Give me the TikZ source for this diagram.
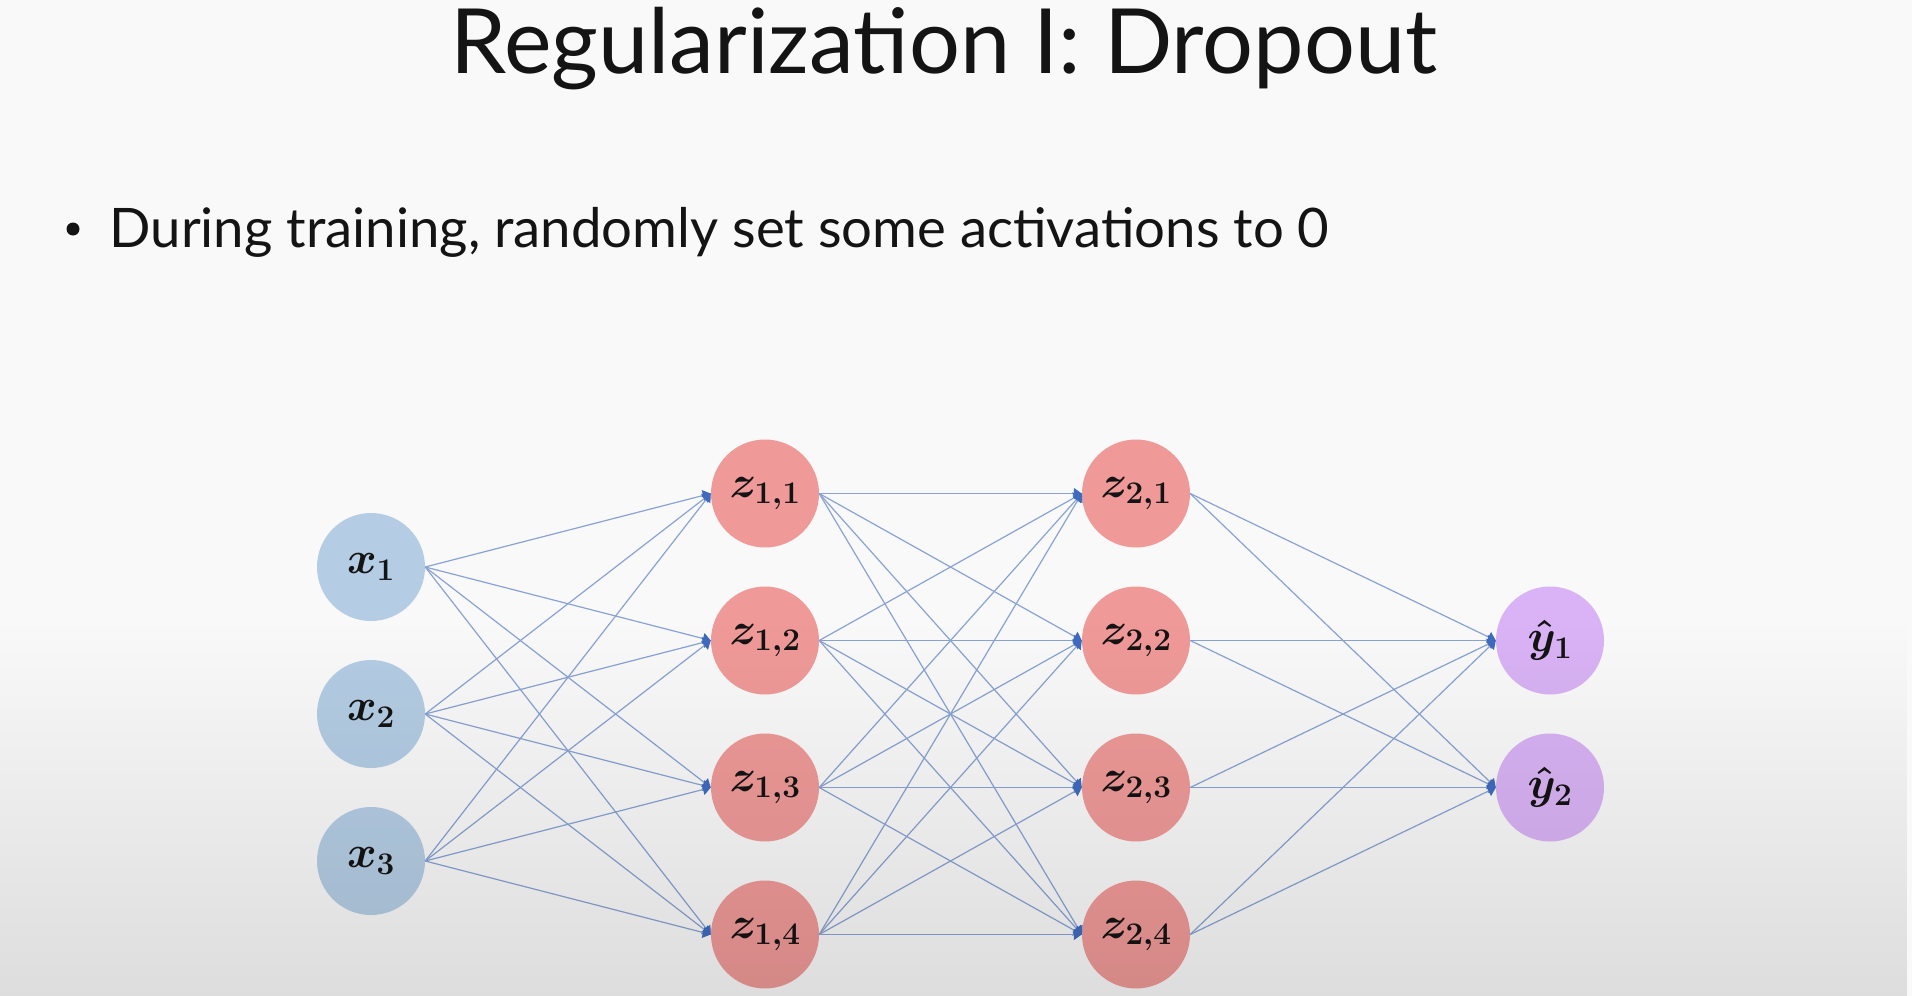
\RequirePackage{fix-cm}
\documentclass[tikz,border=0pt]{standalone}
\usepackage{fontspec}
\setmainfont{Lato}
\usepackage{xcolor}
\definecolor{bgtop}{HTML}{F8F9F8}
\definecolor{inblue}{HTML}{B4CDE4}
\definecolor{hidred}{HTML}{EF9A98}
\definecolor{outpurple}{HTML}{D9B3F5}
\definecolor{edgeblue}{HTML}{8AA3D4}
\definecolor{tipblue}{HTML}{3F6BBF}
\definecolor{inkdark}{HTML}{141414}
\usepackage{tikz}
\usetikzlibrary{arrows.meta,fadings}
\tikzfading[name=fadedown,top color=transparent!100,bottom color=transparent!0]

\begin{document}
\begin{tikzpicture}[x=1pt,y=-1pt]
\tikzset{
 neuron/.style={circle,minimum size=108pt,inner sep=0pt,text=inkdark,font=\fontsize{45}{54}\selectfont\boldmath},
 inp/.style={neuron,fill=inblue},
 hid/.style={neuron,fill=hidred},
 outp/.style={neuron,fill=outpurple},
 link/.style={line width=1.2pt,draw=edgeblue,-{Triangle[width=11pt,length=8pt,color=tipblue]}}
}
\fill[bgtop] (0,0) rectangle (1912,996);
\useasboundingbox (0,0) rectangle (1912,996);

% slide text
\node[anchor=base,text=inkdark,font=\fontsize{90}{104}\selectfont] (title) at (944,73) {Regularization I: Dropout};
\node[anchor=base west,text=inkdark,font=\fontsize{54.5}{66}\selectfont] (point) at (106,247) {During training, randomly set some activations to 0};
\fill[inkdark] (73,229) circle (6.5pt);

% input layer
\node[inp] (x1) at (371,567) {$x_1$};
\node[inp] (x2) at (371,714) {$x_2$};
\node[inp] (x3) at (371,861) {$x_3$};

% hidden layers
\node[hid] (z11) at (765,493.5) {$z_{1,1}$};
\node[hid] (z12) at (765,640.5) {$z_{1,2}$};
\node[hid] (z13) at (765,787.5) {$z_{1,3}$};
\node[hid] (z14) at (765,934.5) {$z_{1,4}$};
\node[hid] (z21) at (1136,493.5) {$z_{2,1}$};
\node[hid] (z22) at (1136,640.5) {$z_{2,2}$};
\node[hid] (z23) at (1136,787.5) {$z_{2,3}$};
\node[hid] (z24) at (1136,934.5) {$z_{2,4}$};

% output layer
\node[outp] (y1) at (1550,640.5) {$\hat{y}_1$};
\node[outp] (y2) at (1550,787.5) {$\hat{y}_2$};

% connections
\foreach \i in {1,2,3}
  \foreach \j in {1,...,4}
    \draw[link] (x\i.east) -- (z1\j.west);
\foreach \i in {1,...,4}
  \foreach \j in {1,...,4}
    \draw[link] (z1\i.east) -- (z2\j.west);
\foreach \i in {1,...,4}
  \foreach \j in {1,2}
    \draw[link] (z2\i.east) -- (y\j.west);

% darker lower part of the slide
\fill[black,fill opacity=0.11,path fading=fadedown] (0,620) rectangle (1912,996);
\end{tikzpicture}
\end{document}
